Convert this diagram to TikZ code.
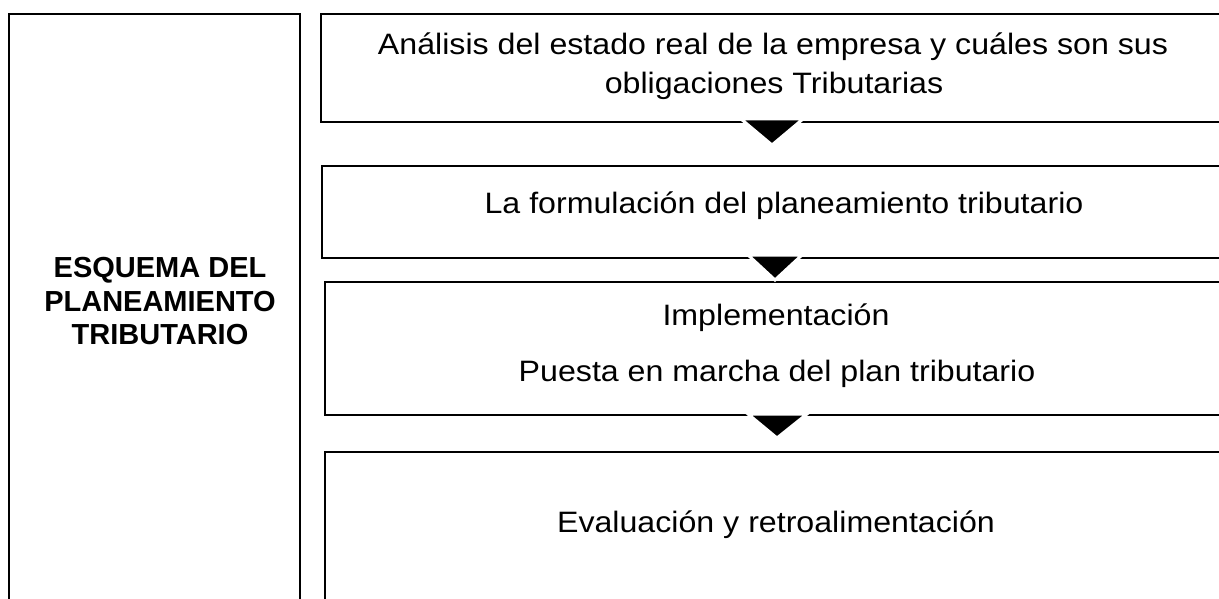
\documentclass[tikz,border=0pt]{standalone}
\usepackage{fontspec}
\setmainfont{Liberation Sans}
\newfontfamily\widesans[FakeStretch=1.09]{Liberation Sans}
\usetikzlibrary{shapes.geometric}
\begin{document}
\begin{tikzpicture}[x=1pt,y=-1pt,
  panel/.style={draw=black,line width=2pt,fill=white,inner sep=0pt,outer sep=0pt,anchor=north west},
  txt/.style={font=\widesans\fontsize{29.5}{34}\selectfont,inner sep=0pt,anchor=base},
  ttl/.style={font=\fontsize{29}{34}\selectfont\bfseries,inner sep=0pt,anchor=base},
  tri/.style={fill=black,draw=white,line width=3pt,line join=miter}]
\useasboundingbox (0,0) rectangle (1219,599);
\clip (0,0) rectangle (1219,599);
% left title box
\node[panel,minimum width=291pt,minimum height=640pt] (left) at (9,14) {};
% step boxes
\node[panel,minimum width=920pt,minimum height=108pt] (b1) at (321,14) {};
\node[panel,minimum width=920pt,minimum height=92pt] (b2) at (322,166) {};
\node[panel,minimum width=920pt,minimum height=133pt] (b3) at (325,282) {};
\node[panel,minimum width=920pt,minimum height=200pt] (b4) at (325,452) {};
% title
\node[ttl] (t1) at (160,277) {ESQUEMA DEL};
\node[ttl] (t2) at (160,311) {PLANEAMIENTO};
\node[ttl] (t3) at (160,344) {TRIBUTARIO};
% texts
\node[txt] (l1a) at (773,55) {Análisis del estado real de la empresa y cuáles son sus};
\node[txt] (l1b) at (774,94) {obligaciones Tributarias};
\node[txt] (l2) at (784,214) {La formulación del planeamiento tributario};
\node[txt] (l3a) at (776,325) {Implementación};
\node[txt] (l3b) at (777,381) {Puesta en marcha del plan tributario};
\node[txt] (l4) at (776,532) {Evaluación y retroalimentación};
% arrows between steps
\draw[tri] (741,119) -- (803,119) -- (772,145) -- cycle;
\draw[tri] (748,255) -- (802,255) -- (775,280) -- cycle;
\draw[tri] (748,414) -- (807,414) -- (777,438) -- cycle;
\end{tikzpicture}
\end{document}
